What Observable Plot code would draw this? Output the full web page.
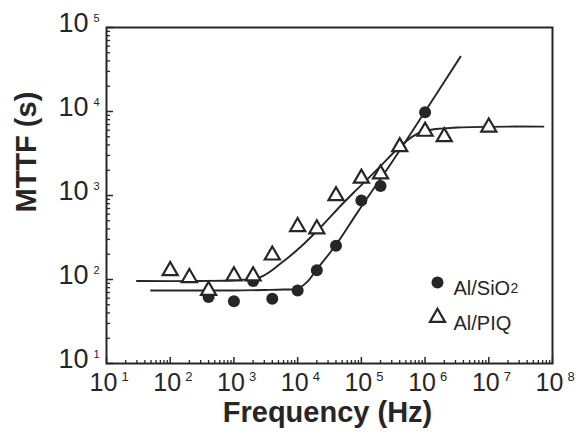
<!DOCTYPE html>
<html><head><meta charset="utf-8">
<script src="https://cdn.jsdelivr.net/npm/d3@7"></script>
<script src="https://cdn.jsdelivr.net/npm/@observablehq/plot@0.6"></script>
<style>
html,body{margin:0;padding:0;background:#fff;}
#chart svg{display:block;}
</style></head><body><div id="chart"></div>
<script>
// ---- data ----
const xTicks = [1e1, 1e2, 1e3, 1e4, 1e5, 1e6, 1e7, 1e8];
const xExponents = ["1", "2", "3", "4", "5", "6", "7", "8"];
const yTicks = [1e1, 1e2, 1e3, 1e4, 1e5];
const yExponents = ["1", "2", "3", "4", "5"];

const sio2Freq = [400, 1000, 2000, 4000, 1e4, 2e4, 4e4, 1e5, 2e5, 1e6];
const sio2Mttf = [62, 55, 96, 59, 74, 129, 252, 870, 1300, 9800];

const piqFreq = [100, 200, 400, 1000, 2000, 4000, 1e4, 2e4, 4e4, 1e5, 2e5, 4e5, 1e6, 2e6, 1e7];
const piqMttf = [127, 105, 74, 110, 110, 195, 425, 400, 990, 1600, 1800, 3800, 5800, 5000, 6500];

const sio2FitFreq = [50, 300, 1000, 3000, 6000, 1e4, 1.4e4, 2e4, 4.17e4, 8.7e4, 3.16e5, 1e6, 3.6e6];
const sio2FitMttf = [74, 74, 74, 75, 76, 78, 93, 132, 270, 630, 2630, 1e4, 45000];

const piqFitFreq = [30, 300, 1000, 2600, 5400, 1.12e4, 2.3e4, 4.7e4, 8.7e4, 2e5, 4e5, 6.6e5, 1e6, 3.2e6, 7.2e7];
const piqFitMttf = [96, 96, 98, 107, 155, 245, 420, 750, 1200, 2240, 3800, 5130, 5900, 6450, 6600];

const legendLabels = ["Al/SiO", "Al/PIQ"];
const legendSub = "2";
const xTitle = "Frequency (Hz)";
const yTitle = "MTTF (s)";

// ---- build tables ----
const sio2 = sio2Freq.map((f, i) => ({f, t: sio2Mttf[i]}));
const piq = piqFreq.map((f, i) => ({f, t: piqMttf[i]}));
const sio2Fit = sio2FitFreq.map((f, i) => ({f, t: sio2FitMttf[i]}));
const piqFit = piqFitFreq.map((f, i) => ({f, t: piqFitMttf[i]}));
const minorOf = ticks => ticks.slice(0, -1).flatMap(d => d3.range(2, 10).map(k => d * k));
const xMinor = minorOf(xTicks);
const yMinor = minorOf(yTicks);

const ink = "#262626";
const xLo = xTicks[0], yLo = yTicks[0];

const chart = Plot.plot({
  width: 578, height: 446,
  marginLeft: 106, marginRight: 26, marginTop: 27, marginBottom: 83,
  style: {fontFamily: "'Liberation Sans', Arial, sans-serif", color: ink, background: "#fff", overflow: "visible"},
  x: {type: "log", domain: [xTicks[0], xTicks[xTicks.length - 1]], axis: null},
  y: {type: "log", domain: [yTicks[0], yTicks[yTicks.length - 1]], axis: null},
  marks: [
    // inward ticks
    Plot.ruleX(xMinor, {x: d => d, y1: yLo, y2: yLo, insetTop: -3, stroke: ink, strokeWidth: 1.3}),
    Plot.ruleX(xTicks, {x: d => d, y1: yLo, y2: yLo, insetTop: -6, stroke: ink, strokeWidth: 1.5}),
    Plot.ruleY(yMinor, {y: d => d, x1: xLo, x2: xLo, insetRight: -4, stroke: ink, strokeWidth: 1.3}),
    Plot.ruleY(yTicks, {y: d => d, x1: xLo, x2: xLo, insetRight: -7, stroke: ink, strokeWidth: 1.5}),
    Plot.frame({stroke: ink, strokeWidth: 2}),
    // fitted curves
    Plot.line(sio2Fit, {x: "f", y: "t", curve: "catmull-rom", stroke: ink, strokeWidth: 1.9}),
    Plot.line(piqFit, {x: "f", y: "t", curve: "catmull-rom", stroke: ink, strokeWidth: 1.9}),
    // data
    Plot.dot(sio2, {x: "f", y: "t", r: 6, fill: ink, stroke: "none"}),
    Plot.dot(piq, {x: "f", y: "t", symbol: "triangle", r: 5.6, fill: "#fff", stroke: ink, strokeWidth: 2.2}),
    // x tick labels
    Plot.text(xTicks, {x: d => d, frameAnchor: "bottom", dy: 27, dx: -3, text: () => "10", fontSize: 25, fill: ink}),
    Plot.text(xTicks, {x: d => d, frameAnchor: "bottom", dy: 17, dx: 15, text: (d, i) => xExponents[i], textAnchor: "start", fontSize: 13, fill: ink}),
    // y tick labels
    Plot.text(yTicks, {y: d => d, frameAnchor: "left", dx: -18, dy: -4, text: () => "10", textAnchor: "end", fontSize: 27, fill: ink}),
    Plot.text(yTicks, {y: d => d, frameAnchor: "left", dx: -13, dy: -9, text: (d, i) => yExponents[i], textAnchor: "start", fontSize: 11, fill: ink}),
    // axis titles
    Plot.text([xTitle], {frameAnchor: "bottom", dy: 58, dx: -2, text: d => d, fontSize: 29, fontWeight: "bold", fill: ink}),
    Plot.text([yTitle], {frameAnchor: "left", dx: -80, dy: 17, rotate: -90, text: d => d, fontSize: 29, fontWeight: "bold", fill: ink}),
    // legend
    Plot.dot([legendLabels[0]], {frameAnchor: "top-left", dx: 331, dy: 255, r: 6, fill: ink, stroke: "none"}),
    Plot.dot([legendLabels[1]], {frameAnchor: "top-left", dx: 331, dy: 290, r: 5.6, symbol: "triangle", fill: "#fff", stroke: ink, strokeWidth: 2.2}),
    Plot.text([legendLabels[0]], {frameAnchor: "top-left", dx: 347, dy: 253.5, text: d => d, textAnchor: "start", fontSize: 20, fill: ink}),
    Plot.text([legendSub], {frameAnchor: "top-left", dx: 404, dy: 256, text: d => d, textAnchor: "start", fontSize: 14, fill: ink}),
    Plot.text([legendLabels[1]], {frameAnchor: "top-left", dx: 347, dy: 288.5, text: d => d, textAnchor: "start", fontSize: 20, letterSpacing: 0.8, fill: ink})
  ]
});
document.getElementById("chart").appendChild(chart);
</script>
</body></html>
